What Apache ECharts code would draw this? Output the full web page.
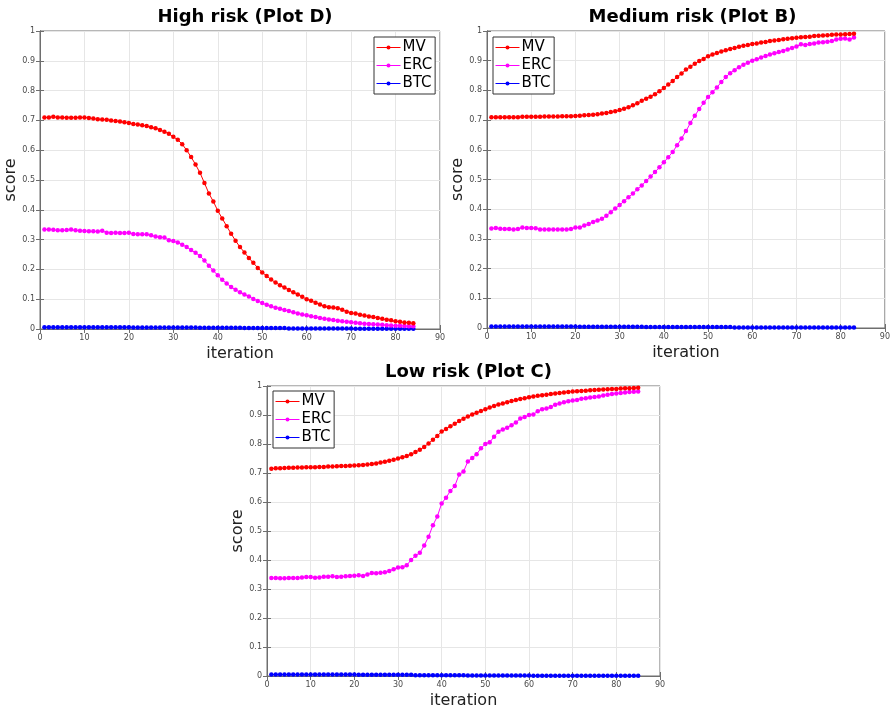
<!DOCTYPE html>
<html>
<head>
<meta charset="utf-8">
<script src="https://cdn.jsdelivr.net/npm/echarts@6/dist/echarts.min.js"></script>
<style>
  html, body { margin: 0; padding: 0; background: #fff; }
  #chart { width: 893px; height: 710px; }
</style>
</head>
<body>
<div id="chart"></div>
<script>
// Axis ticks shared by the three panels
const xTicks = [0, 10, 20, 30, 40, 50, 60, 70, 80, 90];
const yTicks = [0, 0.1, 0.2, 0.3, 0.4, 0.5, 0.6, 0.7, 0.8, 0.9, 1];
const seriesNames = ['MV', 'ERC', 'BTC'];
const panelTitles = ['High risk (Plot D)', 'Medium risk (Plot B)', 'Low risk (Plot C)'];

// High risk (Plot D): iterations 1..84
const highMV = [0.710,0.710,0.712,0.710,0.710,0.709,0.709,0.709,0.710,0.710,
  0.708,0.706,0.704,0.703,0.702,0.700,0.698,0.696,0.694,0.691,
  0.688,0.686,0.684,0.681,0.677,0.674,0.668,0.662,0.655,0.645,
  0.635,0.620,0.600,0.577,0.552,0.524,0.490,0.455,0.428,0.397,
  0.371,0.345,0.320,0.296,0.275,0.257,0.238,0.222,0.205,0.190,
  0.178,0.166,0.156,0.147,0.139,0.131,0.123,0.116,0.108,0.100,
  0.095,0.088,0.082,0.076,0.073,0.072,0.070,0.065,0.058,0.054,
  0.052,0.048,0.045,0.042,0.040,0.037,0.034,0.031,0.029,0.026,
  0.024,0.022,0.021,0.019];
const highERC = [0.334,0.334,0.333,0.331,0.331,0.332,0.334,0.331,0.330,0.329,
  0.328,0.328,0.327,0.330,0.323,0.322,0.323,0.322,0.322,0.323,
  0.319,0.318,0.318,0.318,0.315,0.310,0.308,0.307,0.298,0.295,
  0.290,0.283,0.275,0.265,0.256,0.245,0.230,0.212,0.196,0.180,
  0.165,0.153,0.141,0.132,0.123,0.116,0.109,0.101,0.094,0.087,
  0.081,0.076,0.071,0.068,0.064,0.060,0.056,0.052,0.049,0.046,
  0.043,0.040,0.037,0.034,0.032,0.030,0.028,0.026,0.024,0.023,
  0.021,0.019,0.018,0.017,0.016,0.015,0.014,0.013,0.012,0.011,
  0.011,0.010,0.009,0.009];
const highBTC = [0.006,0.006,0.006,0.006,0.006,0.006,0.006,0.006,0.006,0.006,
  0.006,0.006,0.006,0.006,0.006,0.006,0.006,0.006,0.006,0.006,
  0.005,0.005,0.005,0.005,0.005,0.005,0.005,0.005,0.005,0.005,
  0.005,0.005,0.005,0.005,0.005,0.004,0.004,0.004,0.004,0.004,
  0.004,0.004,0.004,0.004,0.004,0.003,0.003,0.003,0.003,0.003,
  0.003,0.003,0.003,0.003,0.003,0.002,0.002,0.002,0.002,0.002,
  0.002,0.002,0.002,0.002,0.002,0.002,0.002,0.002,0.002,0.002,
  0.001,0.001,0.001,0.001,0.001,0.001,0.001,0.001,0.001,0.001,
  0.001,0.001,0.001,0.001];

// Medium risk (Plot B): iterations 1..83
const medMV = [0.710,0.710,0.710,0.710,0.710,0.710,0.710,0.711,0.711,0.711,
  0.711,0.711,0.712,0.712,0.712,0.712,0.713,0.713,0.713,0.714,
  0.715,0.716,0.717,0.718,0.720,0.722,0.724,0.727,0.730,0.734,
  0.738,0.743,0.750,0.757,0.765,0.772,0.779,0.787,0.797,0.808,
  0.820,0.832,0.845,0.857,0.870,0.880,0.890,0.899,0.906,0.915,
  0.921,0.926,0.931,0.935,0.939,0.943,0.947,0.950,0.953,0.956,
  0.958,0.961,0.963,0.966,0.968,0.970,0.972,0.974,0.976,0.977,
  0.979,0.980,0.981,0.983,0.984,0.985,0.986,0.987,0.988,0.988,
  0.989,0.990,0.991];
const medERC = [0.335,0.337,0.334,0.333,0.333,0.332,0.333,0.338,0.337,0.337,
  0.336,0.332,0.332,0.332,0.332,0.332,0.332,0.332,0.333,0.338,
  0.338,0.345,0.350,0.357,0.362,0.368,0.378,0.390,0.402,0.414,
  0.427,0.440,0.453,0.467,0.480,0.495,0.510,0.525,0.541,0.558,
  0.575,0.593,0.615,0.638,0.663,0.690,0.715,0.737,0.758,0.778,
  0.794,0.810,0.828,0.845,0.858,0.868,0.878,0.886,0.893,0.900,
  0.905,0.911,0.916,0.921,0.925,0.929,0.933,0.938,0.943,0.948,
  0.955,0.953,0.956,0.958,0.961,0.962,0.964,0.966,0.971,0.974,
  0.975,0.971,0.978];
const medBTC = [0.005,0.005,0.005,0.005,0.005,0.005,0.005,0.005,0.005,0.005,
  0.005,0.005,0.005,0.005,0.005,0.005,0.005,0.005,0.005,0.005,
  0.004,0.004,0.004,0.004,0.004,0.004,0.004,0.004,0.004,0.004,
  0.004,0.004,0.004,0.004,0.004,0.003,0.003,0.003,0.003,0.003,
  0.003,0.003,0.003,0.003,0.003,0.003,0.003,0.003,0.003,0.003,
  0.003,0.003,0.003,0.003,0.003,0.002,0.002,0.002,0.002,0.002,
  0.002,0.002,0.002,0.002,0.002,0.002,0.002,0.002,0.002,0.002,
  0.002,0.002,0.002,0.002,0.002,0.002,0.002,0.002,0.002,0.002,
  0.002,0.002,0.002];

// Low risk (Plot C): iterations 1..85
const lowMV = [0.715,0.716,0.716,0.717,0.718,0.718,0.719,0.719,0.720,0.720,
  0.720,0.721,0.721,0.722,0.722,0.723,0.724,0.724,0.725,0.726,
  0.727,0.728,0.729,0.731,0.733,0.736,0.739,0.742,0.746,0.750,
  0.754,0.759,0.765,0.772,0.780,0.790,0.802,0.815,0.828,0.843,
  0.852,0.861,0.870,0.879,0.887,0.895,0.902,0.908,0.914,0.920,
  0.926,0.931,0.936,0.940,0.944,0.948,0.952,0.955,0.958,0.961,
  0.964,0.966,0.968,0.970,0.972,0.974,0.976,0.978,0.979,0.981,
  0.982,0.983,0.984,0.985,0.986,0.987,0.988,0.989,0.990,0.990,
  0.991,0.992,0.992,0.993,0.994];
const lowERC = [0.338,0.338,0.337,0.337,0.338,0.338,0.338,0.340,0.341,0.341,
  0.339,0.340,0.342,0.342,0.344,0.341,0.342,0.344,0.345,0.346,
  0.347,0.345,0.350,0.355,0.354,0.356,0.358,0.362,0.368,0.374,
  0.375,0.382,0.400,0.415,0.425,0.450,0.480,0.520,0.550,0.595,
  0.615,0.638,0.655,0.695,0.705,0.740,0.752,0.765,0.785,0.800,
  0.806,0.825,0.842,0.850,0.856,0.865,0.874,0.888,0.893,0.900,
  0.902,0.913,0.920,0.922,0.928,0.935,0.940,0.944,0.947,0.950,
  0.952,0.956,0.958,0.960,0.962,0.964,0.967,0.970,0.972,0.974,
  0.976,0.978,0.979,0.980,0.981];
const lowBTC = [0.005,0.005,0.005,0.005,0.005,0.005,0.005,0.005,0.005,0.005,
  0.005,0.005,0.005,0.005,0.005,0.005,0.005,0.005,0.005,0.005,
  0.004,0.004,0.004,0.004,0.004,0.004,0.004,0.004,0.004,0.004,
  0.004,0.004,0.004,0.003,0.003,0.003,0.003,0.003,0.003,0.003,
  0.003,0.003,0.003,0.003,0.003,0.002,0.002,0.002,0.002,0.002,
  0.002,0.002,0.002,0.002,0.002,0.002,0.002,0.002,0.002,0.002,
  0.001,0.001,0.001,0.001,0.001,0.001,0.001,0.001,0.001,0.001,
  0.001,0.001,0.001,0.001,0.001,0.001,0.001,0.001,0.001,0.001,
  0.001,0.001,0.001,0.001,0.001];

const panels = [
  { mv: highMV, erc: highERC, btc: highBTC },
  { mv: medMV,  erc: medERC,  btc: medBTC },
  { mv: lowMV,  erc: lowERC,  btc: lowBTC }
];
const colors = ['#ff0000', '#ff00ff', '#0000ff'];

// Panel geometry (pixels)
const grids = [
  { left: 40,  top: 31,  width: 400, height: 298 },
  { left: 487, top: 31,  width: 401, height: 297 },
  { left: 267, top: 386, width: 393, height: 291 }
];
const legendPos = [
  { left: 374, top: 37 },
  { left: 493, top: 37 },
  { left: 273, top: 391 }
];

const FONT = 'DejaVu Sans';
const frame = '#6e6e6e';
const tickText = '#4a4a4a';

const pairs = arr => arr.map((v, i) => [i + 1, v]);

const option = {
  backgroundColor: '#fff',
  animation: false,
  textStyle: { fontFamily: FONT },
  title: panelTitles.map((t, i) => ({
    text: t,
    left: grids[i].left + grids[i].width / 2,
    top: grids[i].top - 28,
    textAlign: 'center',
    textStyle: { fontFamily: FONT, fontWeight: 'bold', fontSize: 18, color: '#000' }
  })),
  legend: panels.map((p, i) => ({
    data: seriesNames,
    left: legendPos[i].left,
    top: legendPos[i].top,
    orient: 'vertical',
    backgroundColor: '#fff',
    borderColor: '#333',
    borderWidth: 1,
    borderRadius: 0,
    padding: [2, 3, 2, 2],
    itemGap: 1,
    itemWidth: 24,
    itemHeight: 5,
    selectedMode: false,
    itemStyle: { borderWidth: 0 },
    lineStyle: { width: 1 },
    textStyle: { fontFamily: FONT, fontSize: 15, color: '#000', lineHeight: 17, padding: [0, 0, 0, -3] }
  })),
  grid: grids.map(g => ({
    left: g.left, top: g.top, width: g.width, height: g.height,
    show: true, backgroundColor: '#fff', borderColor: frame, borderWidth: 1
  })),
  xAxis: [
    ...grids.map((g, i) => ({
      type: 'value', gridIndex: i, min: xTicks[0], max: xTicks[xTicks.length - 1], interval: 10,
      position: 'bottom',
      name: 'iteration', nameLocation: 'middle', nameGap: 17,
      nameTextStyle: { fontFamily: FONT, fontSize: 16, color: '#222' },
      axisLine: { show: true, lineStyle: { color: frame } },
      axisTick: { show: true, inside: true, length: 4, lineStyle: { color: frame } },
      axisLabel: { fontFamily: FONT, fontSize: 8, color: tickText, margin: 5 },
      splitLine: { show: true, lineStyle: { color: '#e6e6e6', width: 1 } }
    })),
    ...grids.map((g, i) => ({
      type: 'value', gridIndex: i, min: xTicks[0], max: xTicks[xTicks.length - 1], interval: 10,
      position: 'top',
      axisLine: { show: true, lineStyle: { color: frame } },
      axisTick: { show: true, inside: true, length: 4, lineStyle: { color: frame } },
      axisLabel: { show: false },
      splitLine: { show: false }
    }))
  ],
  yAxis: [
    ...grids.map((g, i) => ({
      type: 'value', gridIndex: i, min: yTicks[0], max: yTicks[yTicks.length - 1], interval: 0.1,
      position: 'left',
      name: 'score', nameLocation: 'middle', nameGap: 17,
      nameTextStyle: { fontFamily: FONT, fontSize: 16, color: '#222' },
      axisLine: { show: true, lineStyle: { color: frame } },
      axisTick: { show: true, inside: true, length: 4, lineStyle: { color: frame } },
      axisLabel: { fontFamily: FONT, fontSize: 8, color: tickText, margin: 5 },
      splitLine: { show: true, lineStyle: { color: '#e6e6e6', width: 1 } }
    })),
    ...grids.map((g, i) => ({
      type: 'value', gridIndex: i, min: yTicks[0], max: yTicks[yTicks.length - 1], interval: 0.1,
      position: 'right',
      axisLine: { show: true, lineStyle: { color: frame } },
      axisTick: { show: true, inside: true, length: 4, lineStyle: { color: frame } },
      axisLabel: { show: false },
      splitLine: { show: false }
    }))
  ],
  series: []
};

panels.forEach((p, i) => {
  [p.mv, p.erc, p.btc].forEach((vals, k) => {
    option.series.push({
      type: 'line',
      name: seriesNames[k],
      xAxisIndex: i,
      yAxisIndex: i,
      data: pairs(vals),
      symbol: 'circle',
      symbolSize: 4.5,
      showSymbol: true,
      color: colors[k],
      lineStyle: { width: 1, color: colors[k] },
      itemStyle: { color: colors[k] },
      z: 3 - k
    });
  });
});

const chart = echarts.init(document.getElementById('chart'), null, { renderer: 'canvas' });
chart.setOption(option);
</script>
</body>
</html>
